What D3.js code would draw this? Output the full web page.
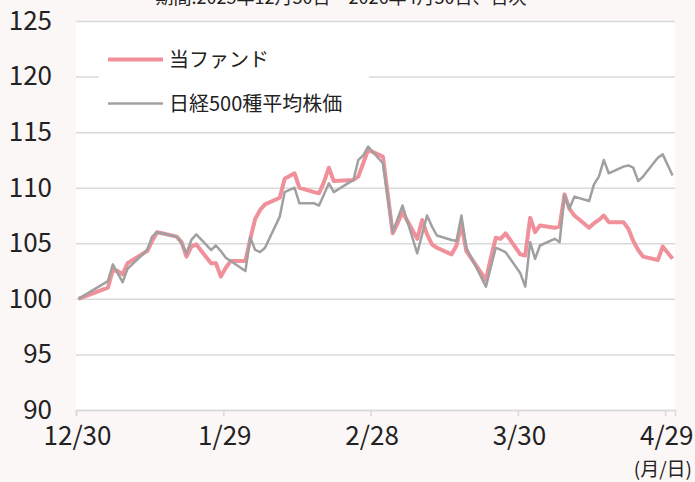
<!DOCTYPE html>
<html>
<head>
<meta charset="utf-8">
<script src="https://cdn.jsdelivr.net/npm/d3@7"></script>
<style>
  body { margin: 0; background: #fcf7f7; }
  svg { display: block; }
  text { font-family: "Noto Sans CJK JP", "Noto Sans", sans-serif; fill: #222; }
</style>
</head>
<body>
<svg width="695" height="482"></svg>
<script>
// 営業日ごとの値 (2025/12/30 = 100)
const dates = [
  "2025-12-30",
  "2026-01-05","2026-01-06","2026-01-07","2026-01-08","2026-01-09",
  "2026-01-13","2026-01-14","2026-01-15","2026-01-16",
  "2026-01-19","2026-01-20","2026-01-21","2026-01-22","2026-01-23",
  "2026-01-26","2026-01-27","2026-01-28","2026-01-29","2026-01-30",
  "2026-02-02","2026-02-03","2026-02-04","2026-02-05","2026-02-06",
  "2026-02-09","2026-02-10","2026-02-12","2026-02-13",
  "2026-02-16","2026-02-17","2026-02-18","2026-02-19","2026-02-20",
  "2026-02-24","2026-02-25","2026-02-26","2026-02-27",
  "2026-03-02","2026-03-03","2026-03-04","2026-03-05","2026-03-06",
  "2026-03-09","2026-03-10","2026-03-11","2026-03-12","2026-03-13",
  "2026-03-16","2026-03-17","2026-03-18","2026-03-19",
  "2026-03-23","2026-03-24","2026-03-25","2026-03-26","2026-03-27",
  "2026-03-30","2026-03-31","2026-04-01","2026-04-02","2026-04-03",
  "2026-04-06","2026-04-07","2026-04-08","2026-04-09","2026-04-10",
  "2026-04-13","2026-04-14","2026-04-15","2026-04-16","2026-04-17",
  "2026-04-20","2026-04-21","2026-04-22","2026-04-23","2026-04-24",
  "2026-04-27","2026-04-28","2026-04-30"
];
const fund = [
  100.0,
  101.0, 102.6, 102.5, 102.2, 103.2,
  104.3, 105.2, 106.0, 105.9,
  105.6, 105.1, 103.8, 104.7, 104.9,
  103.2, 103.2, 102.0, 102.8, 103.4,
  103.4, 105.4, 107.2, 108.0, 108.5,
  109.1, 110.8, 111.3, 110.0,
  109.6, 109.5, 110.5, 111.8, 110.6,
  110.7, 111.0, 112.2, 113.4,
  112.8, 109.4, 105.9, 106.8, 107.8,
  105.4, 107.1, 105.8, 104.9, 104.6,
  104.0, 104.8, 106.7, 104.3,
  101.7, 103.7, 105.5, 105.4, 105.9,
  104.0, 103.9, 107.3, 106.0, 106.6,
  106.4, 106.5, 109.4, 108.1, 107.5,
  106.4, 106.8, 107.1, 107.5, 106.9,
  106.9, 106.3, 105.2, 104.4, 103.8,
  103.5, 104.7, 103.6
];
const nikkei500 = [
  100.0,
  101.6, 103.1, 102.3, 101.5, 102.7,
  104.4, 105.6, 106.0, 105.9,
  105.6, 105.0, 104.1, 105.3, 105.8,
  104.4, 104.8, 104.3, 103.7, 103.4,
  102.5, 105.5, 104.4, 104.2, 104.6,
  107.4, 109.6, 110.0, 108.6,
  108.6, 108.4, 109.4, 110.4, 109.6,
  110.7, 112.5, 112.9, 113.7,
  112.2, 109.1, 106.0, 107.2, 108.4,
  104.1, 105.8, 107.5, 106.5, 105.7,
  105.3, 105.2, 107.5, 104.6,
  101.1, 102.9, 104.6, 104.4, 104.2,
  102.3, 101.1, 105.1, 103.6, 104.8,
  105.4, 105.1, 109.3, 108.1, 109.2,
  108.8, 110.3, 111.0, 112.5, 111.3,
  111.9, 112.0, 111.8, 110.6, 111.0,
  112.7, 113.0, 111.1
];
const seriesNames = ["当ファンド", "日経500種平均株価"];
const tickDates = ["2025-12-30","2026-01-29","2026-02-28","2026-03-30","2026-04-29"];
const yTicks = [90, 95, 100, 105, 110, 115, 120, 125];
const title = "期間:2025年12月30日～2026年4月30日、日次";
const unitLabel = "(月/日)";

const svg = d3.select('svg');
const width = +svg.attr('width');
const height = +svg.attr('height');
const margin = {top: 21, right: 20, bottom: 72, left: 76};
const innerWidth = width - margin.left - margin.right;
const innerHeight = height - margin.top - margin.bottom;
const pink = '#f0909b';
const grey = '#a0a0a0';
const gridColor = '#d9d9d9';

const parse = d3.utcParse('%Y-%m-%d');
const rows = dates.map((d, i) => ({date: parse(d), fund: fund[i], index: nikkei500[i]}));

// 日付軸: 各日の枠の中央に点を置く
const xScale = d3.scaleUtc()
  .domain([parse(dates[0]), d3.utcDay.offset(parse(dates[dates.length - 1]), 1)])
  .range([0, innerWidth]);
const yScale = d3.scaleLinear()
  .domain([90, 125])
  .range([innerHeight, 0]);
const xMid = d => xScale(d3.utcHour.offset(d.date, 12));

svg.append('text')
  .attr('x', 341)
  .attr('y', 4)
  .attr('text-anchor', 'middle')
  .style('font-size', '18px')
  .text(title);

const g = svg.append('g')
  .attr('transform', `translate(${margin.left}, ${margin.top})`);

g.append('rect')
  .attr('width', innerWidth)
  .attr('height', innerHeight)
  .attr('fill', '#fff');

const yAxis = g.append('g')
  .call(d3.axisLeft(yScale).tickValues(yTicks).tickSize(-innerWidth).tickPadding(24));
yAxis.select('.domain').remove();
yAxis.selectAll('.tick line').attr('stroke', gridColor).attr('stroke-width', 1.5);
yAxis.selectAll('.tick text').style('font-size', '26px').attr('fill', '#222');

const xAxis = g.append('g')
  .attr('transform', `translate(0, ${innerHeight})`)
  .call(d3.axisBottom(xScale)
    .tickValues(tickDates.map(parse))
    .tickSize(6)
    .tickPadding(11)
    .tickFormat(d3.utcFormat('%-m/%-d')));
xAxis.select('.domain').attr('stroke', gridColor).attr('stroke-width', 1.5);
xAxis.selectAll('.tick line').attr('stroke', gridColor).attr('stroke-width', 1.5);
xAxis.selectAll('.tick text').style('font-size', '26px').attr('fill', '#222').attr('dx', 1);

const fundLine = d3.line().x(xMid).y(d => yScale(d.fund));
const indexLine = d3.line().x(xMid).y(d => yScale(d.index));

g.append('path')
  .datum(rows)
  .attr('fill', 'none')
  .attr('stroke', pink)
  .attr('stroke-width', 4)
  .attr('stroke-linejoin', 'round')
  .attr('d', fundLine);

g.append('path')
  .datum(rows)
  .attr('fill', 'none')
  .attr('stroke', grey)
  .attr('stroke-width', 2.5)
  .attr('stroke-linejoin', 'round')
  .attr('d', indexLine);

// 凡例
const legend = svg.append('g');
legend.append('rect')
  .attr('x', 99).attr('y', 34)
  .attr('width', 270).attr('height', 88)
  .attr('fill', '#fff');
const legendItems = [
  {name: seriesNames[0], color: pink, w: 4, y: 59.5},
  {name: seriesNames[1], color: grey, w: 2.5, y: 103.5}
];
legend.selectAll('line').data(legendItems)
  .enter().append('line')
    .attr('x1', 108).attr('x2', 163)
    .attr('y1', d => d.y).attr('y2', d => d.y)
    .attr('stroke', d => d.color)
    .attr('stroke-width', d => d.w);
legend.selectAll('text').data(legendItems)
  .enter().append('text')
    .attr('x', 169)
    .attr('y', d => d.y + 7)
    .style('font-size', '20px')
    .text(d => d.name);

svg.append('text')
  .attr('x', 692)
  .attr('y', 476)
  .attr('text-anchor', 'end')
  .style('font-size', '19px')
  .text(unitLabel);
</script>
</body>
</html>
